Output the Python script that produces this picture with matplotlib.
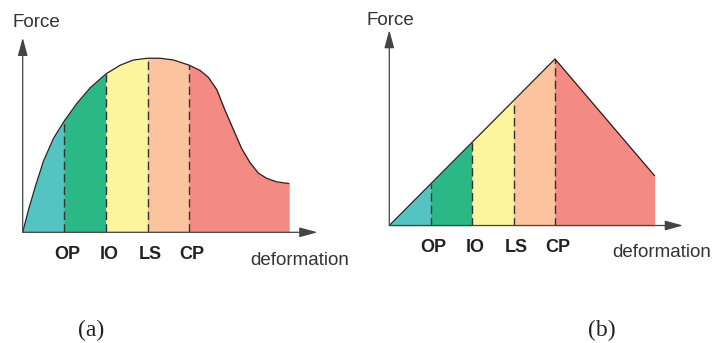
import numpy as np
import matplotlib
matplotlib.use('Agg')
import matplotlib.pyplot as plt

# limit states and the colours of the bands between them
states = ['OP', 'IO', 'LS', 'CP']
band_colors = ['#54c4c2', '#2bb886', '#fcf59e', '#fbc49e', '#f38a84']

# (a) smooth capacity curve
defo_a = [0, 0.14, 0.30, 0.50, 0.74, 1.0, 1.30, 1.62, 2.0, 2.34, 2.66, 3.0,
          3.30, 3.62, 4.0, 4.26, 4.46, 4.66, 4.86, 5.06, 5.26, 5.46, 5.66,
          5.86, 6.10, 6.39]
force_a = [0, 0.13, 0.26, 0.41, 0.54, 0.64, 0.74, 0.83, 0.91, 0.96, 0.99, 1.0,
           1.0, 0.99, 0.96, 0.93, 0.89, 0.82, 0.70, 0.59, 0.48, 0.40, 0.34,
           0.31, 0.29, 0.28]
bounds_a = [1.0, 2.0, 3.0, 4.0]

# (b) bilinear idealisation
defo_b = [0, 1.0, 2.0, 3.0, 4.0, 6.4]
force_b = [0, 0.25, 0.5, 0.75, 1.0, 0.3]
bounds_b = [1.0, 2.0, 3.0, 4.0]

W, H = 715, 343
fig = plt.figure(figsize=(W / 100, H / 100), dpi=100)


def px(x, y):
    # pixel position -> figure fraction
    return x / W, 1 - y / H


def draw_panel(ax, x, y, bounds, xmax, ymax):
    x = np.array(x)
    y = np.array(y)
    edges = [0] + list(bounds) + [x[-1]]
    for i in range(len(edges) - 1):
        m = (x >= edges[i]) & (x <= edges[i + 1])
        ax.fill_between(x[m], y[m], 0, color=band_colors[i], lw=0.4,
                        edgecolor=band_colors[i])
    ax.plot(x, y, color='#222222', lw=0.9, solid_joinstyle='round')
    for b in bounds:
        ax.plot([b, b], [0, np.interp(b, x, y)], color='#333333', lw=1.0,
                ls=(0, (6, 3)))
    for b, s in zip(bounds, states):
        ax.annotate(s, xy=(b, 0), xytext=(2, -16), textcoords='offset points',
                    ha='center', va='center', fontsize=13, fontweight='bold',
                    color='#222222', family='Liberation Sans')
    # axes with arrow heads
    ap = dict(arrowstyle='-|>,head_length=1.1,head_width=0.3', mutation_scale=10,
              lw=0.9, color='#444444', shrinkA=0, shrinkB=0)
    ax.annotate('', xy=(1, 0), xytext=(0, 0), xycoords='axes fraction', arrowprops=ap)
    ax.annotate('', xy=(0, 1), xytext=(0, 0), xycoords='axes fraction', arrowprops=ap)
    ax.set_xlim(0, xmax)
    ax.set_ylim(0, ymax)
    ax.axis('off')


ax1 = fig.add_axes([22.7 / W, (H - 232.3) / H, 294.8 / W, 194.6 / H])
draw_panel(ax1, defo_a, force_a, bounds_a, 7.08, 1.118)

ax2 = fig.add_axes([389.3 / W, (H - 225.5) / H, 293.7 / W, 195.5 / H])
draw_panel(ax2, defo_b, force_b, bounds_b, 7.09, 1.174)

sans = dict(fontsize=13.5, color='#333333', family='Liberation Sans')
fig.text(*px(12.3, 26.7), 'Force', ha='left', va='baseline', **sans)
fig.text(*px(366, 25), 'Force', ha='left', va='baseline', **sans)
fig.text(*px(300, 265), 'deformation', ha='center', va='baseline', **sans)
fig.text(*px(661.7, 256.7), 'deformation', ha='center', va='baseline', **sans)

serif = dict(fontsize=17, color='#222222', family='Liberation Serif')
fig.text(*px(91, 330), '(a)', ha='center', va='center', **serif)
fig.text(*px(601.7, 330), '(b)', ha='center', va='center', **serif)

fig.savefig('out.png', dpi=100)
